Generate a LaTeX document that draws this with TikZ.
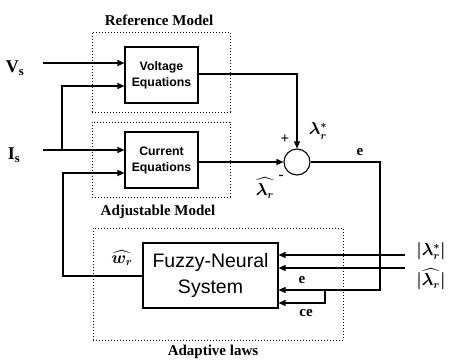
\documentclass[tikz,border=0pt]{standalone}
\usepackage{fontspec}
\setmainfont{Liberation Serif}
\setsansfont{Liberation Sans}
\usepackage{amsmath,bm}
\usetikzlibrary{arrows.meta,calc}
\begin{document}
\begin{tikzpicture}[x=1pt,y=-1pt,
  blk/.style={draw, line width=1.1pt, inner sep=0pt, align=center},
  smallblk/.style={blk, minimum width=73pt, minimum height=56pt, font=\sffamily\bfseries\fontsize{12.3}{16}\selectfont},
  grp/.style={draw, dotted, line width=1pt, inner sep=0pt},
  lbl/.style={font=\bfseries\fontsize{15}{17}\selectfont, inner sep=0pt},
  sig/.style={line width=1.1pt},
  arr/.style={sig, -{Triangle[length=7pt,width=6pt]}},
  ml/.style={inner sep=0pt, font=\fontsize{16}{18}\selectfont},
  tl/.style={inner sep=0pt, font=\bfseries\fontsize{15}{17}\selectfont}
]
\useasboundingbox (0,0) rectangle (451,360);

% groups
\node[grp, minimum width=138pt, minimum height=80pt] (refgrp) at (161,72) {};
\node[grp, minimum width=138pt, minimum height=75pt] (adjgrp) at (161,159.5) {};
\node[grp, minimum width=250pt, minimum height=112pt] (adagrp) at (218,284) {};
\node[lbl] (reflbl) at (159,20) {Reference Model};
\node[lbl] (adjlbl) at (158,212) {Adjustable Model};
\node[lbl] (adalbl) at (213,352) {Adaptive laws};

% blocks
\node[smallblk] (volt) at (161.5,75) {Voltage\\Equations};
\node[smallblk] (curr) at (161.5,160) {Current\\Equations};
\node[blk, minimum width=135pt, minimum height=65pt, font=\sffamily\fontsize{19.5}{26}\selectfont] (fuzzy) at (210.5,275.5) {Fuzzy-Neural\\System};
\node[draw, circle, line width=1.1pt, minimum size=26pt, inner sep=0pt] (sum) at (297,162) {};

% inputs
\node[ml, font=\bfseries\fontsize{18}{20}\selectfont] (vs) at (15,68) {V$_{\mathbf{s}}$};
\node[ml, font=\bfseries\fontsize{18}{20}\selectfont] (is) at (14,155) {I$_{\mathbf{s}}$};
\coordinate (vsin) at (43,63);
\coordinate (isin) at (43,150);
\coordinate (isbr) at (62,150);
\coordinate (fbx) at (63,276);

\draw[arr] (vsin) -- (vsin -| volt.west);
\draw[arr] (isin) -- (isin -| curr.west);
\draw[arr] (isbr) -- (62,86) -- (62,86 -| volt.west);
\draw[arr] (fuzzy.west |- fbx) -- (fbx) -- (63,173) -- (63,173 -| curr.west);

% to summing junction
\draw[arr] (volt.east |- 0,74) -- (sum.north |- 0,74) -- (sum.north);
\draw[arr] (curr.east |- sum.west) -- (sum.west);

% error path
\coordinate (ecorner) at (380,162);
\coordinate (ebot) at (380,290);
\coordinate (cex) at (325,290);
\draw[arr] (sum.east) -- (ecorner) -- (ebot) -- (ebot -| fuzzy.east);
\draw[arr] (cex) -- (325,303) -- (325,303 -| fuzzy.east);

% magnitude inputs
\coordinate (m1) at (405,255);
\coordinate (m2) at (405,268);
\draw[arr] (m1) -- (m1 -| fuzzy.east);
\draw[arr] (m2) -- (m2 -| fuzzy.east);

% labels
\node[tl] (plus) at (285,139) {+};
\node[tl] (minus) at (281,177) {-};
\node[ml] (lamstar) at (318,131) {$\bm{\lambda_r^{*}}$};
\node[ml] (lamhat) at (265,188) {$\bm{\widehat{\lambda_r}}$};
\node[tl] (elbl) at (360,152) {e};
\node[tl] (elbl2) at (302,280) {e};
\node[tl] (celbl) at (306,313) {ce};
\node[ml] (whlbl) at (122,258) {$\bm{\widehat{w_r}}$};
\node[ml] (abs1) at (431,251) {$\bm{|\lambda_r^{*}|}$};
\node[ml] (abs2) at (431,279) {$\bm{|\widehat{\lambda_r}|}$};
\end{tikzpicture}
\end{document}
